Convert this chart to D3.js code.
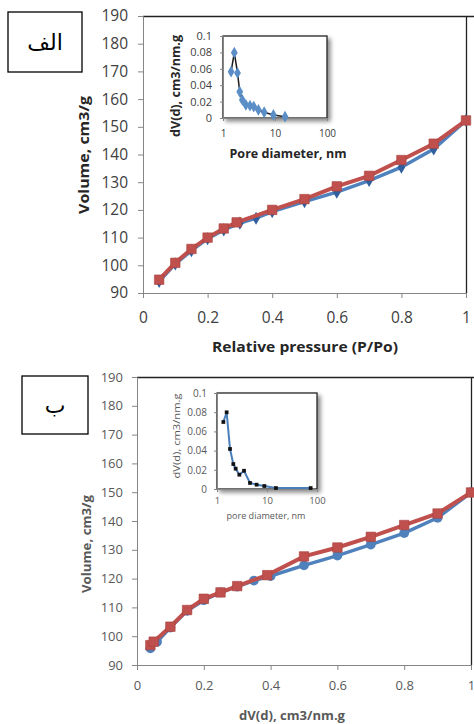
<!DOCTYPE html>
<html><head><meta charset="utf-8">
<script src="https://cdn.jsdelivr.net/npm/d3@7"></script>
<style>
body{margin:0;background:#fff;}
svg{display:block;}
text{font-family:"Open Sans","Liberation Sans",sans-serif;}
</style></head>
<body>
<script>
// ---------- DATA ----------
// Panel A (الف) isotherm
const pressureA_ads = [0.05,0.10,0.15,0.20,0.25,0.30,0.35,0.40,0.50,0.60,0.70,0.80,0.90,1.00];
const volumeA_ads   = [94.2,100.5,105.3,109.6,112.8,115.2,117.0,119.4,123.0,126.4,130.6,135.4,142.0,152.3];
const pressureA_des = [0.05,0.10,0.15,0.20,0.25,0.29,0.40,0.50,0.60,0.70,0.80,0.90,1.00];
const volumeA_des   = [94.8,100.9,105.9,110.0,113.3,115.5,120.0,123.9,128.5,132.3,138.0,143.9,152.3];
// Panel A inset (pore size distribution)
const poreA = [1.43,1.65,1.9,2.1,2.35,2.75,3.3,3.9,4.8,6.2,9.3,15.6];
const dvA   = [0.0565,0.0796,0.055,0.032,0.022,0.016,0.015,0.0140,0.0098,0.007,0.0037,0.0016];
// Panel B (ب) isotherm
const pressureB_ads = [0.04,0.06,0.10,0.15,0.20,0.25,0.30,0.35,0.40,0.50,0.60,0.70,0.80,0.90,1.00];
const volumeB_ads   = [95.8,98.1,103.0,108.8,112.5,115.2,117.2,119.3,120.9,124.6,128.0,131.8,135.8,141.1,149.9];
const pressureB_des = [0.04,0.05,0.10,0.15,0.20,0.25,0.30,0.39,0.50,0.60,0.70,0.80,0.90,1.00];
const volumeB_des   = [96.9,98.1,103.3,109.1,113.0,115.2,117.4,121.2,127.7,130.8,134.5,138.6,142.6,149.9];
// Panel B inset
const poreB = [1.34,1.56,1.82,2.12,2.36,2.8,3.47,4.57,6.2,8.85,15.1,74.7];
const dvB   = [0.0698,0.0799,0.0417,0.026,0.0212,0.0149,0.019,0.0063,0.0045,0.0031,0.001,0.001];
// Ticks / labels
const mainYTicks = [90,100,110,120,130,140,150,160,170,180,190];
const mainXTicks = [0,0.2,0.4,0.6,0.8,1];
const insetYTicks = [0,0.02,0.04,0.06,0.08,0.1];
const insetXTicks = [1,10,100];
const labelA = "الف";
const labelB = "ب";

// ---------- DRAW ----------
const W = 474, H = 724;
const svg = d3.select("body").append("svg").attr("width", W).attr("height", H);
const defs = svg.append("defs");
const f = defs.append("filter").attr("id","sh").attr("x","-20%").attr("y","-20%").attr("width","150%").attr("height","150%");
f.append("feDropShadow").attr("dx",3).attr("dy",3).attr("stdDeviation",2).attr("flood-color","#000").attr("flood-opacity",0.45);

const BLUE = "#4f81bd", RED = "#c0504d";

function mainPanel(o){
  const g = svg.append("g");
  const x = d3.scaleLinear().domain([0,1]).range([o.x0,o.x1]);
  const y = d3.scaleLinear().domain([90,190]).range([o.y0,o.y1]);
  g.append("line").attr("x1",o.x0).attr("x2",o.borderRight).attr("y1",o.y1+0.5).attr("y2",o.y1+0.5).attr("stroke","#222").attr("stroke-width",1.3);
  g.append("line").attr("x1",o.x1+0.5).attr("x2",o.x1+0.5).attr("y1",o.y1).attr("y2",o.y0).attr("stroke","#222").attr("stroke-width",1.3);
  const ya = g.append("g").attr("transform",`translate(${o.x0},0)`)
    .call(d3.axisLeft(y).tickValues(mainYTicks).tickSize(5).tickPadding(o.yPad).tickFormat(d3.format("d")));
  const xa = g.append("g").attr("transform",`translate(0,${o.y0})`)
    .call(d3.axisBottom(x).tickValues(mainXTicks).tickSize(5).tickPadding(o.xPad).tickFormat(d=>d===0?"0":d===1?"1":d3.format(".1f")(d)));
  [ya,xa].forEach(a=>{
    a.select(".domain").attr("stroke","#868686");
    a.selectAll(".tick line").attr("stroke","#868686");
    a.selectAll("text").attr("fill",o.tickColor).style("font-size",o.tickSize+"px").style("font-family",'"Open Sans",sans-serif');
  });
  const line = d3.line().x(d=>x(d[0])).y(d=>y(d[1]));
  const ads = o.pa.map((p,i)=>[p,o.va[i]]);
  const des = o.pd.map((p,i)=>[p,o.vd[i]]);
  g.append("path").datum(ads).attr("d",line).attr("fill","none").attr("stroke",BLUE).attr("stroke-width",3.5);
  g.append("g").selectAll("path").data(ads).join("path")
    .attr("transform",d=>`translate(${x(d[0])},${y(d[1])})`)
    .attr("d",d3.symbol().type(o.adsSym).size(o.adsSize))
    .attr("fill",o.adsFill);
  g.append("path").datum(des).attr("d",line).attr("fill","none").attr("stroke",RED).attr("stroke-width",4);
  g.append("g").selectAll("path").data(des).join("path")
    .attr("transform",d=>`translate(${x(d[0])},${y(d[1])})`)
    .attr("d",d3.symbol().type(d3.symbolSquare).size(90))
    .attr("fill",RED).attr("stroke","#a8413e").attr("stroke-width",0.6);
  g.append("text").attr("x",o.xtX).attr("y",o.xtY).attr("text-anchor","middle").attr("dominant-baseline","central")
    .attr("font-weight","bold").attr("fill",o.titleColor).style("font-size",o.titleSize+"px")
    .attr("textLength",o.xtLen).attr("lengthAdjust","spacingAndGlyphs").text(o.xTitle);
  g.append("text").attr("transform",`translate(${o.ytX},${o.ytY}) rotate(-90)`).attr("text-anchor","middle").attr("dominant-baseline","central")
    .attr("font-weight","bold").attr("fill",o.titleColor).style("font-size",o.titleSize+"px")
    .attr("textLength",o.ytLen).attr("lengthAdjust","spacingAndGlyphs").text(o.yTitle);
  g.append("rect").attr("x",o.bx).attr("y",o.by).attr("width",o.bw).attr("height",o.bh).attr("fill","#fff").attr("stroke","#000").attr("stroke-width",1.3);
  g.append("text").attr("x",o.bx+o.bw/2).attr("y",o.by+o.bh/2).attr("text-anchor","middle").attr("dominant-baseline","central")
    .style("font-family",'"DejaVu Sans",sans-serif').style("font-size","22px").attr("fill","#000").text(o.label);
}

function inset(o){
  const g = svg.append("g");
  const x = d3.scaleLog().domain([1,100]).range([o.x0,o.x1]);
  const y = d3.scaleLinear().domain([0,0.1]).range([o.y0,o.y1]);
  g.append("rect").attr("x",o.x0).attr("y",o.y1).attr("width",o.x1-o.x0).attr("height",o.y0-o.y1)
    .attr("fill","#fff").attr("stroke","#222").attr("stroke-width",1.3).attr("filter","url(#sh)");
  const ya = g.append("g").attr("transform",`translate(${o.x0},0)`)
    .call(d3.axisLeft(y).tickValues(insetYTicks).tickSize(3).tickPadding(o.yPad).tickFormat(d=>d===0?"0":String(+d.toFixed(2))));
  const xa = g.append("g").attr("transform",`translate(0,${o.y0})`)
    .call(d3.axisBottom(x).tickValues(insetXTicks).tickSize(3).tickPadding(o.xPad).tickFormat(d3.format("d")));
  [ya,xa].forEach(a=>{
    a.select(".domain").attr("stroke","#868686");
    a.selectAll(".tick line").attr("stroke","#868686");
    a.selectAll("text").attr("fill",o.tickColor).style("font-family",'"Open Sans",sans-serif');
  });
  ya.selectAll("text").style("font-size",o.yTickSize+"px");
  xa.selectAll("text").style("font-size",o.xTickSize+"px");
  const pts = o.px.map((p,i)=>[p,o.py[i]]);
  const line = d3.line().x(d=>x(d[0])).y(d=>y(d[1]));
  g.append("path").datum(pts).attr("d",line).attr("fill","none").attr("stroke",o.lineColor).attr("stroke-width",o.lineW);
  g.append("g").selectAll("path").data(pts).join("path")
    .attr("transform",d=>`translate(${x(d[0])},${y(d[1])})`)
    .attr("d",d3.symbol().type(o.sym).size(o.symSize)).attr("fill",o.symFill);
  g.append("text").attr("x",o.xtX).attr("y",o.xtY).attr("text-anchor","middle").attr("dominant-baseline","central")
    .attr("font-weight",o.titleWeight).attr("fill",o.titleColor).style("font-size",o.xtSize+"px")
    .attr("textLength",o.xtLen).attr("lengthAdjust","spacingAndGlyphs").text(o.xTitle);
  g.append("text").attr("transform",`translate(${o.ytX},${o.ytY}) rotate(-90)`).attr("text-anchor","middle").attr("dominant-baseline","central")
    .attr("font-weight",o.titleWeight).attr("fill",o.titleColor).style("font-size",o.ytSize+"px")
    .attr("textLength",o.ytLen).attr("lengthAdjust","spacingAndGlyphs").text(o.yTitle);
}

mainPanel({x0:143,x1:466,y0:293,y1:16,borderRight:474,yPad:10,xPad:14,tickColor:"#404040",tickSize:15.5,
  pa:pressureA_ads,va:volumeA_ads,pd:pressureA_des,vd:volumeA_des,adsSym:d3.symbolDiamond,adsSize:50,adsFill:"#2f5f9e",
  xTitle:"Relative pressure (P/Po)",xtX:305,xtY:346,xtLen:186,yTitle:"Volume, cm3/g",ytX:83,ytY:155,ytLen:118,
  titleColor:"#262626",titleSize:15,label:labelA,bx:8,by:12,bw:74,bh:60});
inset({x0:223,x1:327,y0:118,y1:36,yPad:8,xPad:9,tickColor:"#404040",yTickSize:11,xTickSize:10,
  px:poreA,py:dvA,lineColor:"#1a1a1a",lineW:1.5,sym:d3.symbolDiamond,symSize:40,symFill:"#5b8ec7",
  xTitle:"Pore diameter, nm",xtX:288,xtY:153,xtLen:117,xtSize:13,yTitle:"dV(d), cm3/nm.g",ytX:175,ytY:86,ytLen:102,ytSize:12,
  titleWeight:"bold",titleColor:"#262626"});

mainPanel({x0:137,x1:471,y0:665,y1:377,borderRight:474,yPad:9,xPad:11,tickColor:"#595959",tickSize:13,
  pa:pressureB_ads,va:volumeB_ads,pd:pressureB_des,vd:volumeB_des,adsSym:d3.symbolCircle,adsSize:75,adsFill:BLUE,
  xTitle:"dV(d), cm3/nm.g",xtX:292,xtY:715,xtLen:106,yTitle:"Volume, cm3/g",ytX:86,ytY:544,ytLen:98,
  titleColor:"#595959",titleSize:13,label:labelB,bx:22,by:376,bw:66,bh:58});
inset({x0:217,x1:317,y0:489,y1:393,yPad:7,xPad:5,tickColor:"#595959",yTickSize:10,xTickSize:9.5,
  px:poreB,py:dvB,lineColor:"#4a7ebb",lineW:2,sym:d3.symbolSquare,symSize:14,symFill:"#111",
  xTitle:"pore diameter, nm",xtX:266,xtY:515,xtLen:79,xtSize:9.5,yTitle:"dV(d), cm3/nm.g",ytX:176,ytY:436,ytLen:85,ytSize:9,
  titleWeight:"normal",titleColor:"#595959"});
</script>
</body></html>
